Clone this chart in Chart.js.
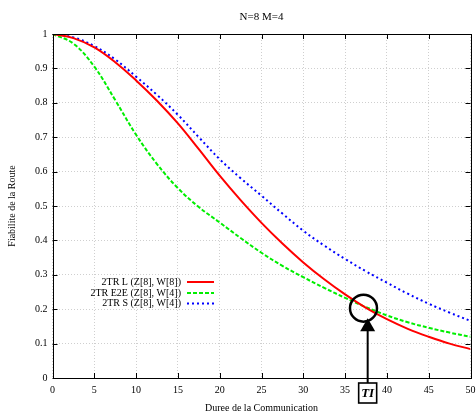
<!DOCTYPE html>
<html><head><meta charset="utf-8">
<script src="https://cdn.jsdelivr.net/npm/chart.js@4/dist/chart.umd.min.js"></script>
<style>html,body{margin:0;padding:0;background:#fff;}#wrap{width:476px;height:414px;}</style>
</head><body><div id="wrap"><canvas id="c" width="476" height="414"></canvas></div>
<script>
const chartTitle = 'N=8 M=4';
const xTitle = 'Duree de la Communication';
const yTitle = 'Fiabilite de la Route';
const times    = [0, 2.5, 5, 7.5, 10, 12.5, 15, 17.5, 20, 22.5, 25, 27.5, 30, 32.5, 35, 37.5, 40, 42.5, 45, 47.5, 50];
const serieL   = [1, 0.988, 0.961, 0.918, 0.865, 0.806, 0.740, 0.665, 0.588, 0.517, 0.451, 0.391, 0.336, 0.287, 0.243, 0.204, 0.171, 0.143, 0.120, 0.100, 0.084];
const serieE2E = [1, 0.972, 0.905, 0.808, 0.707, 0.622, 0.552, 0.497, 0.452, 0.407, 0.364, 0.326, 0.293, 0.262, 0.233, 0.206, 0.182, 0.162, 0.146, 0.132, 0.120];
const serieS   = [1, 0.990, 0.965, 0.926, 0.876, 0.823, 0.765, 0.700, 0.636, 0.581, 0.530, 0.478, 0.428, 0.385, 0.346, 0.310, 0.277, 0.245, 0.216, 0.190, 0.166];
const seriesLabels = ['2TR L (Z[8], W[8])', '2TR E2E (Z[8], W[4])', '2TR S (Z[8], W[4])'];
const xTicks = [0, 5, 10, 15, 20, 25, 30, 35, 40, 45, 50];
const yTicks = [0, 0.1, 0.2, 0.3, 0.4, 0.5, 0.6, 0.7, 0.8, 0.9, 1];
const annotPoint = {x: 37.2, y: 0.203};
const annotArrow = {x: 37.7, y: 0.174};
const annotLabel = 'TI';

const FONT = 'Liberation Serif';
const toXY = arr => arr.map((v, i) => ({x: times[i], y: v}));

const framePlugin = {
  id: 'frame',
  afterDatasetsDraw(chart) {
    const {ctx, chartArea: a, scales} = chart;
    ctx.save();
    ctx.strokeStyle = '#000';
    ctx.lineWidth = 1;
    ctx.beginPath();
    const L = 5;
    xTicks.forEach(v => {
      const px = Math.round(scales.x.getPixelForValue(v)) + 0.5;
      ctx.moveTo(px, a.bottom); ctx.lineTo(px, a.bottom - L);
      ctx.moveTo(px, a.top); ctx.lineTo(px, a.top + L);
    });
    yTicks.forEach(v => {
      const py = Math.round(scales.y.getPixelForValue(v)) + 0.5;
      ctx.moveTo(a.left, py); ctx.lineTo(a.left + L, py);
      ctx.moveTo(a.right, py); ctx.lineTo(a.right - L, py);
    });
    ctx.stroke();
    ctx.strokeRect(Math.round(a.left) + 0.5, Math.round(a.top) + 0.5, Math.round(a.right - a.left), Math.round(a.bottom - a.top));
    ctx.restore();
  },
  afterDraw(chart) {
    const {ctx, chartArea: a, scales} = chart;
    ctx.save();
    ctx.fillStyle = '#000';
    ctx.font = '11px "' + FONT + '"';
    ctx.textAlign = 'center';
    ctx.textBaseline = 'middle';
    ctx.fillText(chartTitle, (a.left + a.right) / 2, 17);
    ctx.font = '10px "' + FONT + '"';
    ctx.textAlign = 'right';
    const rows = [282, 293, 303.5];
    chart.data.datasets.forEach((ds, i) => {
      const y = rows[i];
      ctx.fillStyle = '#000';
      ctx.fillText(ds.label, 181, y);
      ctx.save();
      ctx.strokeStyle = ds.borderColor;
      ctx.lineWidth = ds.borderWidth;
      ctx.setLineDash(ds.borderDash || []);
      ctx.beginPath();
      ctx.moveTo(187, y); ctx.lineTo(214, y);
      ctx.stroke();
      ctx.restore();
    });
    const cx = scales.x.getPixelForValue(annotPoint.x);
    const cy = scales.y.getPixelForValue(annotPoint.y);
    ctx.strokeStyle = '#000';
    ctx.lineWidth = 2.5;
    ctx.beginPath();
    ctx.arc(cx, cy, 13.5, 0, Math.PI * 2);
    ctx.stroke();
    const ax = scales.x.getPixelForValue(annotArrow.x);
    const tipY = scales.y.getPixelForValue(annotArrow.y);
    const boxTop = a.bottom + 5, boxH = 20, boxW = 18;
    ctx.lineWidth = 2;
    ctx.beginPath();
    ctx.moveTo(ax, boxTop); ctx.lineTo(ax, tipY + 10);
    ctx.stroke();
    ctx.fillStyle = '#000';
    ctx.beginPath();
    ctx.moveTo(ax, tipY);
    ctx.lineTo(ax - 7.5, tipY + 13);
    ctx.lineTo(ax + 7.5, tipY + 13);
    ctx.closePath();
    ctx.fill();
    ctx.fillStyle = '#fff';
    ctx.fillRect(ax - boxW / 2, boxTop, boxW, boxH);
    ctx.lineWidth = 1.6;
    ctx.strokeRect(ax - boxW / 2, boxTop, boxW, boxH);
    ctx.fillStyle = '#000';
    ctx.font = 'italic bold 13px "' + FONT + '"';
    ctx.textAlign = 'center';
    ctx.fillText(annotLabel, ax, boxTop + boxH / 2 + 1);
    ctx.restore();
  }
};

const gridOpts = {color: '#cfcfcf', lineWidth: 1, drawTicks: false};
const tickFont = {family: FONT, size: 10};
const fmt = v => String(Number(Number(v).toFixed(1)));

new Chart(document.getElementById('c'), {
  type: 'line',
  data: {
    datasets: [
      {label: seriesLabels[0], data: toXY(serieL), borderColor: '#ff0000', borderWidth: 2, borderDash: []},
      {label: seriesLabels[1], data: toXY(serieE2E), borderColor: '#00ee00', borderWidth: 2, borderDash: [4, 2]},
      {label: seriesLabels[2], data: toXY(serieS), borderColor: '#0000ff', borderWidth: 2, borderDash: [2, 3]}
    ]
  },
  options: {
    responsive: false,
    animation: false,
    devicePixelRatio: 1,
    layout: {padding: {top: 34, right: 0, left: 0, bottom: 0}},
    elements: {point: {radius: 0}, line: {tension: 0.4, cubicInterpolationMode: 'default', fill: false}},
    plugins: {legend: {display: false}, title: {display: false}, tooltip: {enabled: false}},
    scales: {
      x: {
        type: 'linear', min: 0, max: 50,
        afterBuildTicks: s => { s.ticks = xTicks.map(v => ({value: v})); },
        afterFit: s => { s.height = 36; s.paddingRight = 5.5; s.paddingLeft = 0; },
        grid: gridOpts,
        border: {display: false, dash: [1, 2]},
        ticks: {padding: 6, color: '#000', font: tickFont, maxRotation: 0, autoSkip: false, callback: fmt},
        title: {display: true, text: xTitle, color: '#000', font: tickFont, padding: 0}
      },
      y: {
        type: 'linear', min: 0, max: 1,
        afterBuildTicks: s => { s.ticks = yTicks.map(v => ({value: v})); },
        afterFit: s => { s.width = 52.5; s.paddingTop = 0; s.paddingBottom = 0; },
        grid: gridOpts,
        border: {display: false, dash: [1, 2]},
        ticks: {padding: 5, color: '#000', font: tickFont, autoSkip: false, callback: fmt},
        title: {display: true, text: yTitle, color: '#000', font: tickFont, padding: {top: 6, bottom: 0}}
      }
    }
  },
  plugins: [framePlugin]
});
</script></body></html>
